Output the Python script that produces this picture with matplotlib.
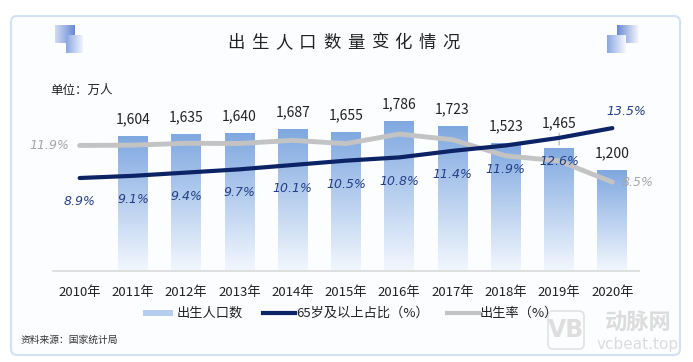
import numpy as np
import matplotlib.pyplot as plt
from matplotlib.patches import FancyBboxPatch, Rectangle
from matplotlib.lines import Line2D

plt.rcParams['font.family'] = ['Noto Sans CJK SC', 'DejaVu Sans']

years = ['2010年', '2011年', '2012年', '2013年', '2014年', '2015年',
         '2016年', '2017年', '2018年', '2019年', '2020年']
births = [None, 1604, 1635, 1640, 1687, 1655, 1786, 1723, 1523, 1465, 1200]
elderly = [8.9, 9.1, 9.4, 9.7, 10.1, 10.5, 10.8, 11.4, 11.9, 12.6, 13.5]
birth_rate = [11.90, 11.93, 12.10, 12.08, 12.37, 12.07, 12.95, 12.43, 10.94, 10.48, 8.52]

W, H = 693, 362
fig = plt.figure(figsize=(W / 100, H / 100), dpi=100)
fig.patch.set_facecolor('white')

# background layer for the card and decorations (pixel coords)
bg = fig.add_axes([0, 0, 1, 1])
bg.set_xlim(0, W)
bg.set_ylim(H, 0)
bg.axis('off')
card = FancyBboxPatch((11, 16), 669, 339, boxstyle='round,pad=0,rounding_size=6',
                      facecolor='#fcfdff', edgecolor='#d3e2f3', lw=1.5)
bg.add_patch(card)

def grad_square(ax, x0, y0, w, h, c1, c2):
    g = np.linspace(0, 1, 50).reshape(1, -1)
    c1 = np.array(plt.matplotlib.colors.to_rgb(c1))
    c2 = np.array(plt.matplotlib.colors.to_rgb(c2))
    img = c1[None, None, :] * (1 - g[..., None]) + c2[None, None, :] * g[..., None]
    ax.imshow(img, extent=[x0, x0 + w, y0 + h, y0], aspect='auto', zorder=2)

grad_square(bg, 55, 25, 20, 18, '#d0dbf3', '#6a88d4')
grad_square(bg, 66, 35, 17, 18, '#8aa7e2', '#f0f4fc')
grad_square(bg, 617, 25, 22, 18, '#6a88d4', '#f6f8fd')
grad_square(bg, 607, 35, 19, 18, '#8aa7e2', '#f6f8fd')

title = '出生人口数量变化情况'
for i, ch in enumerate(title):
    bg.text(236 + i * 23.9, 43, ch, fontsize=12.5, ha='center', va='center', color='#222222')

bg.text(50, 90, '单位：万人', fontsize=9, ha='left', va='center', color='#222222')
bg.text(21, 340, '资料来源：国家统计局', fontsize=7, ha='left', va='center', color='#333333')

# watermark
bg.text(638, 323, '动脉网', fontsize=16, fontweight='bold', ha='center', va='center', color='#dcdcdc')
bg.text(638, 345, 'vcbeat.top', fontsize=11, ha='center', va='center', color='#dcdcdc',
        family=['DejaVu Sans'])
bg.add_patch(FancyBboxPatch((548, 311), 36, 38, boxstyle='round,pad=0,rounding_size=5',
                            facecolor='none', edgecolor='#e2e2e2', lw=1.2))
bg.text(566, 330, 'VB', fontsize=17, fontweight='bold', ha='center', va='center', color='#dedede',
        family=['DejaVu Sans'])

# main chart
ax = fig.add_axes([53 / W, 91 / H, 586 / W, 171 / H])
ax.set_facecolor('none')
x = np.arange(len(years))
ax.set_xlim(-0.5, len(years) - 0.5)
ax.set_ylim(0, 2036)

bar_x = [i for i, v in enumerate(births) if v is not None]
bar_v = [v for v in births if v is not None]
bars = ax.bar(bar_x, bar_v, width=0.56, color='none', edgecolor='none', zorder=2)
top_c = np.array([0.50, 0.66, 0.88])
bot_c = np.array([0.95, 0.97, 0.995])
for b in bars:
    h = b.get_height()
    g = np.linspace(0, 1, 100).reshape(-1, 1)
    img = top_c[None, None, :] * (1 - g[..., None]) + bot_c[None, None, :] * g[..., None]
    img = np.repeat(img, 2, axis=1)
    im = ax.imshow(img, extent=[b.get_x(), b.get_x() + b.get_width(), 0, h],
                   aspect='auto', zorder=2)
    im.set_clip_path(b)

for xi, v in zip(bar_x, bar_v):
    dy = 12
    if xi == 9:
        dy = 18
        ax.annotate('', xy=(xi, v), xytext=(xi, v + 210),
                    arrowprops=dict(arrowstyle='-', color='#999999', lw=0.6))
    ax.annotate(f'{v:,}', (xi, v), xytext=(0, dy), textcoords='offset points',
                ha='center', va='center', fontsize=10, color='#222222')

ax.set_xticks(x)
ax.set_xticklabels(years, fontsize=9.5, color='#222222')
ax.tick_params(axis='x', length=0, pad=11)
ax.set_yticks([])
for s in ['top', 'right', 'left']:
    ax.spines[s].set_visible(False)
ax.spines['bottom'].set_color('#d9d9d9')
ax.spines['bottom'].set_linewidth(1.2)

ax2 = ax.twinx()
ax2.set_ylim(0.33, 16.09)
ax2.axis('off')
ax2.plot(x, birth_rate, color='#c3c3c3', lw=3.5, solid_capstyle='round', zorder=3)
ax2.plot(x, elderly, color='#0c2366', lw=3, solid_capstyle='round', zorder=4)

pct_font = dict(fontsize=9, style='italic', family=['DejaVu Sans'])
for xi, v in enumerate(elderly):
    if xi == len(elderly) - 1:
        ax2.annotate(f'{v}%', (xi, v), xytext=(10, 12), textcoords='offset points',
                     ha='center', va='center', color='#253f85', **pct_font)
    else:
        ax2.annotate(f'{v}%', (xi, v), xytext=(0, -17), textcoords='offset points',
                     ha='center', va='center', color='#253f85', **pct_font)

ax2.annotate(f'{birth_rate[0]:.1f}%', (0, birth_rate[0]), xytext=(-22, 0), textcoords='offset points',
             ha='center', va='center', color='#a6a6a6', **pct_font)
ax2.annotate(f'{birth_rate[-1]:.1f}%', (10, birth_rate[-1]), xytext=(18, 0), textcoords='offset points',
             ha='center', va='center', color='#a6a6a6', **pct_font)

# legend drawn by hand
bg.add_patch(Rectangle((143, 310), 30, 6, facecolor='#b7cdf0', edgecolor='none'))
bg.text(177, 313, '出生人口数', fontsize=9.5, ha='left', va='center', color='#222222')
bg.add_line(Line2D([263, 295], [313, 313], color='#0c2366', lw=3))
bg.text(296, 313, '65岁及以上占比（%）', fontsize=9.5, ha='left', va='center', color='#222222')
bg.add_line(Line2D([447, 479], [313, 313], color='#c3c3c3', lw=3))
bg.text(480, 313, '出生率（%）', fontsize=9.5, ha='left', va='center', color='#222222')

fig.savefig('out.png', dpi=100, facecolor='white')
